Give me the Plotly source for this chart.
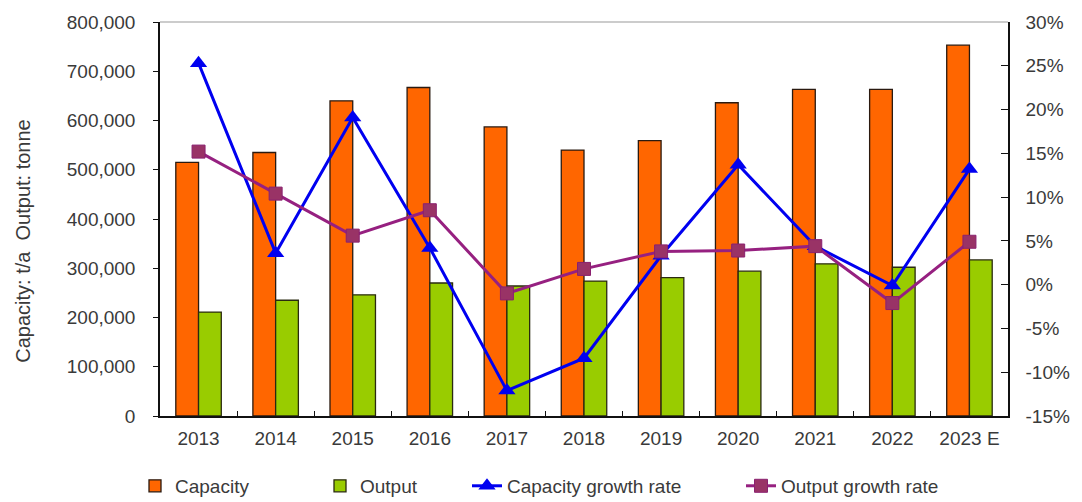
import plotly.graph_objects as go

# Annual figures
years = ["2013", "2014", "2015", "2016", "2017", "2018", "2019", "2020", "2021", "2022", "2023 E"]
capacity = [515000, 535000, 640000, 667000, 587000, 540000, 559000, 636000, 663000, 663000, 753000]
output = [211000, 235000, 246000, 270000, 264000, 274000, 281000, 294000, 309000, 302000, 317000]
capacity_growth = [25.3, 3.6, 19.1, 4.2, -12.1, -8.4, 3.3, 13.7, 4.4, -0.1, 13.2]
output_growth = [15.2, 10.4, 5.6, 8.5, -1.0, 1.8, 3.8, 3.9, 4.4, -2.1, 4.9]

left_ticks = list(range(0, 800001, 100000))
right_ticks = list(range(-15, 31, 5))
right_labels = [f"{v}%" for v in right_ticks]

FONT = "Liberation Sans, Arial, sans-serif"
TXT = "#3a3a3a"

fig = go.Figure()

fig.add_trace(go.Bar(
    x=years, y=capacity, name="Capacity",
    marker=dict(color="#FF6600", line=dict(color="#2a1a10", width=1.3)),
    legend="legend",
))
fig.add_trace(go.Bar(
    x=years, y=output, name="Output",
    marker=dict(color="#99CC00", line=dict(color="#2a2a10", width=1.3)),
    legend="legend2",
))
fig.add_trace(go.Scatter(
    x=years, y=capacity_growth, name="Capacity growth rate", yaxis="y2",
    mode="lines+markers",
    line=dict(color="#0000F0", width=3),
    marker=dict(symbol="triangle-up", size=15, color="#0000F0"),
    legend="legend3",
))
fig.add_trace(go.Scatter(
    x=years, y=output_growth, name="Output growth rate", yaxis="y2",
    mode="lines+markers",
    line=dict(color="#962080", width=3),
    marker=dict(symbol="square", size=13, color="#993366",
                line=dict(color="#8a2070", width=1)),
    legend="legend4",
))

legend_common = dict(
    orientation="h", xref="container", yref="container",
    xanchor="left", yanchor="middle", y=0.032,
    bgcolor="rgba(0,0,0,0)", font=dict(family=FONT, size=19, color=TXT),
)

fig.update_layout(
    width=1082, height=502,
    margin=dict(l=160, r=66, t=21, b=86),
    paper_bgcolor="white", plot_bgcolor="white",
    font=dict(family=FONT, size=19, color=TXT),
    showlegend=True,
    barmode="group", bargap=0.41, bargroupgap=0,
    xaxis=dict(
        type="category", range=[-0.5, len(years) - 0.5], showgrid=False,
        showline=True, linecolor="#111", linewidth=1.5,
        ticks="inside", tickson="boundaries", ticklen=5, tickcolor="#111",
        ticklabelstandoff=4,
        tickfont=dict(size=19, color=TXT),
    ),
    yaxis=dict(
        range=[0, 800000], tickvals=left_ticks, tickformat=",",
        showgrid=False, zeroline=False,
        showline=True, linecolor="#111", linewidth=1.5,
        ticks="outside", ticklen=5, tickcolor="#111",
        ticklabelstandoff=14,
        tickfont=dict(size=19, color=TXT),
    ),
    yaxis2=dict(
        range=[-15, 30], tickvals=right_ticks, ticktext=right_labels,
        overlaying="y", side="right",
        showgrid=False, zeroline=False,
        showline=True, linecolor="#111", linewidth=1.5,
        ticks="inside", ticklen=7, tickcolor="#111",
        ticklabelstandoff=12,
        tickfont=dict(size=19, color=TXT),
    ),
    legend=dict(legend_common, x=135 / 1082),
    legend2=dict(legend_common, x=320 / 1082),
    legend3=dict(legend_common, x=467 / 1082),
    legend4=dict(legend_common, x=741 / 1082),
    shapes=[dict(type="line", xref="paper", yref="paper", x0=0, x1=1, y0=1, y1=1,
                 line=dict(color="#9a9a9a", width=1.2))],
    annotations=[dict(
        text="Capacity: t/a\u00a0 Output: tonne", textangle=-90,
        xref="paper", yref="paper", x=(22 - 160) / 856, y=(416 - 241) / 395,
        xanchor="center", yanchor="middle", showarrow=False,
        font=dict(family=FONT, size=20, color=TXT),
    )],
)

fig.write_html("out.html")
